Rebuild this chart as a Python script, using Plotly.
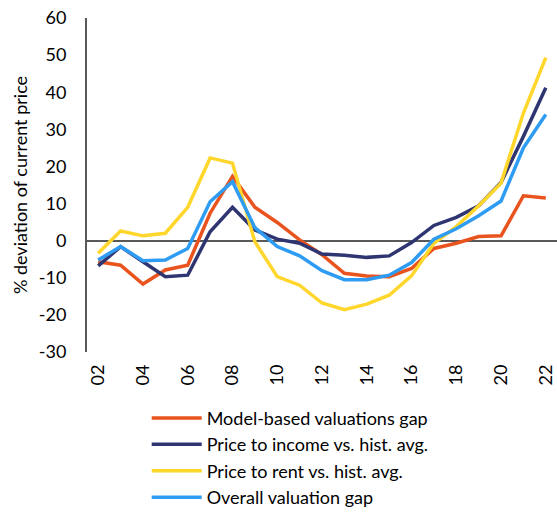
import plotly.graph_objects as go

years = ["02", "03", "04", "05", "06", "07", "08", "09", "10", "11", "12",
         "13", "14", "15", "16", "17", "18", "19", "20", "21", "22"]
tick_labels = ["02", "04", "06", "08", "10", "12", "14", "16", "18", "20", "22"]
y_ticks = [-30, -20, -10, 0, 10, 20, 30, 40, 50, 60]
y_tick_labels = ["-30", "-20", "-10", "0", "10", "20", "30", "40", "50", "60"]

model_based = [-5.7, -6.6, -11.7, -7.9, -6.6, 7.4, 17.3, 9.0, 4.9, 0.2, -3.8,
               -8.8, -9.5, -9.7, -7.5, -2.1, -0.7, 1.1, 1.3, 12.1, 11.5]
price_income = [-6.8, -1.6, -5.7, -9.7, -9.3, 2.4, 9.0, 2.9, 0.4, -0.7, -3.6,
                -3.9, -4.5, -4.1, -0.5, 4.1, 6.3, 9.4, 15.7, 28.1, 41.2]
price_rent = [-3.4, 2.6, 1.3, 2.0, 9.0, 22.3, 20.9, -0.3, -9.7, -12.0, -16.8,
              -18.6, -17.1, -14.7, -9.5, -0.7, 3.8, 9.4, 15.5, 34.4, 49.3]
overall = [-5.2, -1.6, -5.4, -5.2, -2.1, 10.5, 15.9, 3.5, -1.6, -4.1, -8.1,
           -10.5, -10.5, -9.3, -5.9, 0.4, 3.2, 6.7, 10.7, 25.0, 34.0]

series = [
    ("Model-based valuations gap", model_based, "#E8531E"),
    ("Price to income vs. hist. avg.", price_income, "#2E3571"),
    ("Price to rent vs. hist. avg.", price_rent, "#FFD62B"),
    ("Overall valuation gap", overall, "#2F9CF3"),
]

fig = go.Figure()
for name, vals, color in series:
    fig.add_trace(go.Scatter(x=years, y=vals, name=name, mode="lines",
                             line=dict(color=color, width=3.5)))

font_family = "Lato, 'Open Sans', sans-serif"
fig.update_layout(
    width=557, height=519,
    margin=dict(l=87, r=0, t=18, b=167, autoexpand=False),
    paper_bgcolor="white", plot_bgcolor="white",
    font=dict(family=font_family, size=18, color="#000000"),
    showlegend=True,
    legend=dict(x=0.127, y=-0.143, xanchor="left", yanchor="top",
                font=dict(size=18), tracegroupgap=1, itemwidth=50,
                bgcolor="rgba(0,0,0,0)"),
    xaxis=dict(type="category", range=[-0.5, 20.5], automargin=False,
               tickmode="array", tickvals=tick_labels, ticktext=tick_labels,
               tickangle=-90, showgrid=False, showline=False, zeroline=False,
               ticks="", ticklabelstandoff=8, tickfont=dict(size=18)),
    yaxis=dict(range=[-30, 60], automargin=False,
               tickmode="array", tickvals=y_ticks, ticktext=y_tick_labels,
               showgrid=False,
               showline=True, linecolor="#595959", linewidth=2,
               zeroline=True, zerolinecolor="#595959", zerolinewidth=2,
               ticks="", ticklabelstandoff=15, tickfont=dict(size=18),
               title=dict(text="% deviation of current price", font=dict(size=18),
                          standoff=7)),
)

fig.write_html(
    "out.html",
    config={"displayModeBar": False},
    post_script="document.body.style.margin='0';document.body.style.overflow='hidden';",
)
